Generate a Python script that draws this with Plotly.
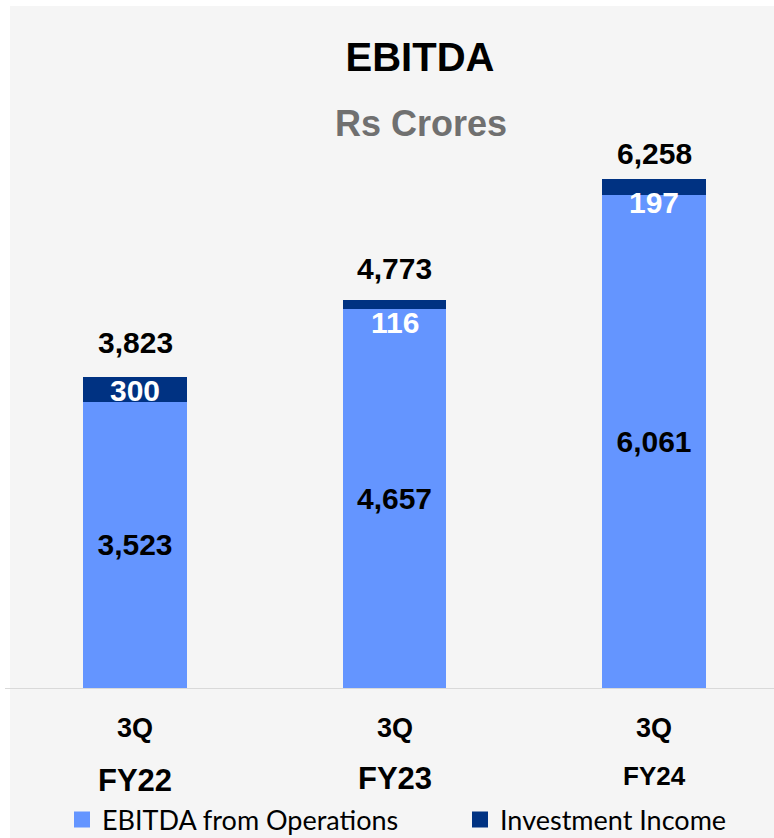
import plotly.graph_objects as go

quarters = ["3Q", "3Q", "3Q"]
years = ["FY22", "FY23", "FY24"]
ebitda_ops = [3523, 4657, 6061]
invest_income = [300, 116, 197]
totals = [3823, 4773, 6258]
series_names = ["EBITDA from Operations", "Investment Income"]

OPS_COLOR = "#6495FF"
INV_COLOR = "#003282"
NUM_FONT = "Liberation Sans, Arial, sans-serif"
LEG_FONT = dict(family="Lato, Carlito, sans-serif", size=27, color="black")

x = list(range(len(years)))

fig = go.Figure()
fig.add_trace(go.Bar(
    x=x, y=ebitda_ops, name=series_names[0], showlegend=False,
    marker=dict(color=OPS_COLOR, line=dict(width=0)), width=0.4,
    texttemplate="<b>%{y:,}</b>", textposition="inside", insidetextanchor="middle",
    textfont=dict(family=NUM_FONT, size=30, color="black"),
    constraintext="none", hoverinfo="skip",
))
fig.add_trace(go.Bar(
    x=x, y=invest_income, name=series_names[1], showlegend=False,
    marker=dict(color=INV_COLOR, line=dict(width=0)), width=0.4,
    textposition="none", hoverinfo="skip",
))
# legend entries (square swatches)
for name, color, leg in [(series_names[0], OPS_COLOR, "legend"), (series_names[1], INV_COLOR, "legend2")]:
    fig.add_trace(go.Scatter(
        x=[None], y=[None], mode="markers", name=name, legend=leg,
        marker=dict(symbol="square", size=16, color=color, line=dict(width=0)),
        hoverinfo="skip",
    ))

annotations = []
total_shift = [35, 31, 26]
inv_shift = [-1, -18, -15]
year_size = [31, 31, 26]
year_pos = [-92, -90, -88]
for i in x:
    annotations.append(dict(x=i, y=totals[i], xref="x", yref="y", text=f"<b>{totals[i]:,}</b>",
                            showarrow=False, yanchor="middle", yshift=total_shift[i],
                            font=dict(family=NUM_FONT, size=30, color="black")))
    annotations.append(dict(x=i, y=ebitda_ops[i] + invest_income[i] / 2, xref="x", yref="y",
                            text=f"<b>{invest_income[i]:,}</b>", showarrow=False,
                            yanchor="middle", yshift=inv_shift[i],
                            font=dict(family=NUM_FONT, size=30, color="white")))
    annotations.append(dict(x=i, y=0, xref="x", yref="y", text=f"<b>{quarters[i]}</b>",
                            showarrow=False, yanchor="middle", yshift=-40,
                            font=dict(family=NUM_FONT, size=27, color="black")))
    annotations.append(dict(x=i, y=0, xref="x", yref="y", text=f"<b>{years[i]}</b>",
                            showarrow=False, yanchor="middle", yshift=year_pos[i],
                            font=dict(family=NUM_FONT, size=year_size[i], color="black")))

annotations.append(dict(xref="paper", yref="paper", x=(421 - 5) / 769, y=1 + (100 - 123) / 588,
                        text="<b>Rs Crores</b>", showarrow=False, xanchor="center", yanchor="middle",
                        font=dict(family=NUM_FONT, size=36, color="#707070")))

leg_y = -(820 - 688) / 588
fig.update_layout(
    width=774, height=838,
    margin=dict(l=5, r=0, t=100, b=150, pad=0, autoexpand=False),
    paper_bgcolor="white", plot_bgcolor="rgba(0,0,0,0)",
    barmode="stack",
    title=dict(text="<b>EBITDA</b>", x=420 / 774, xref="container", xanchor="center",
               y=1 - 57 / 838, yref="container", yanchor="middle",
               font=dict(family=NUM_FONT, size=40, color="black")),
    xaxis=dict(range=[-0.501, 2.4624], showticklabels=False, showgrid=False, zeroline=False,
               showline=True, linecolor="#d9d9d9", linewidth=1, ticks="", fixedrange=True),
    yaxis=dict(range=[0, 7232], visible=False, fixedrange=True),
    showlegend=True,
    legend=dict(orientation="h", x=(62 - 5) / 769, xanchor="left", y=leg_y,
                yanchor="middle", bgcolor="rgba(0,0,0,0)", font=LEG_FONT),
    legend2=dict(orientation="h", x=(460 - 5) / 769, xanchor="left", y=leg_y,
                 yanchor="middle", bgcolor="rgba(0,0,0,0)", font=LEG_FONT),
    shapes=[dict(type="rect", xref="paper", yref="paper", layer="below",
                 x0=(10 - 5) / 769, x1=1.01, y0=-(838 - 688) / 588 - 0.01, y1=1 + (100 - 6) / 588,
                 fillcolor="#f5f5f5", line=dict(width=0))],
    annotations=annotations,
)

fig.write_html("out.html", config={"displayModeBar": False},
               post_script="document.body.style.margin='0';")
